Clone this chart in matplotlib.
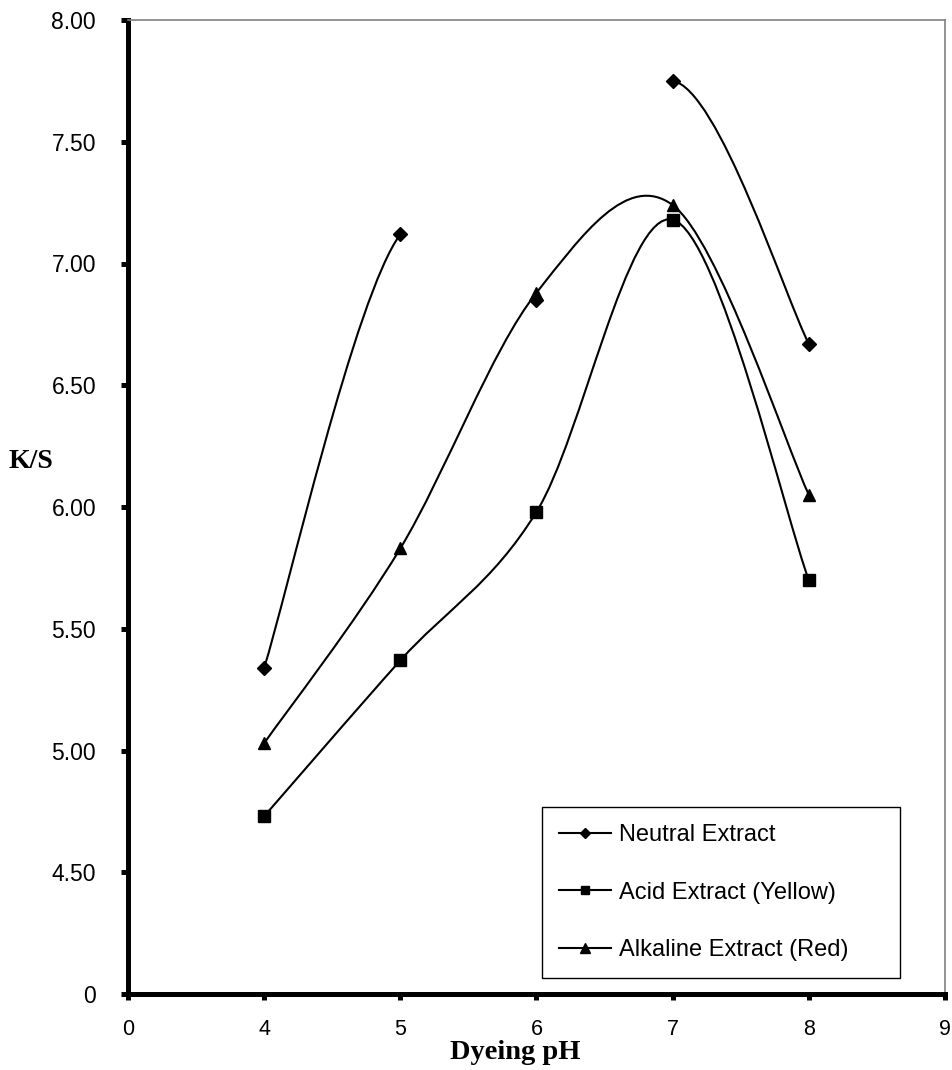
import numpy as np
import matplotlib
matplotlib.use("Agg")
import matplotlib.pyplot as plt
from matplotlib.path import Path
from matplotlib.patches import PathPatch
from matplotlib.lines import Line2D

# data
ph = [4, 5, 6, 7, 8]
neutral = [5.34, 7.12, 6.85, 7.75, 6.67]
acid = [4.73, 5.37, 5.98, 7.18, 5.70]
alkaline = [5.03, 5.83, 6.88, 7.24, 6.05]
neutral_segments = [0, 3]  # only these segments of the neutral line are drawn

x_ticks = [3, 4, 5, 6, 7, 8, 9]
x_labels = ["0", "4", "5", "6", "7", "8", "9"]
y_ticks = [4.0, 4.5, 5.0, 5.5, 6.0, 6.5, 7.0, 7.5, 8.0]
y_labels = ["0", "4.50", "5.00", "5.50", "6.00", "6.50", "7.00", "7.50", "8.00"]

plt.rcParams['font.family'] = ['Liberation Sans', 'DejaVu Sans']


def smooth_path(xs, ys, segs=None):
    # Excel style smoothed line: cubic bezier through every point
    p = np.column_stack([xs, ys]).astype(float)
    n = len(p)
    verts, codes = [], []
    if segs is None:
        segs = range(n - 1)
    for i in segs:
        p0 = p[max(i - 1, 0)]
        p1 = p[i]
        p2 = p[i + 1]
        p3 = p[min(i + 2, n - 1)]
        c1 = p1 + (p2 - p0) / 6
        c2 = p2 - (p3 - p1) / 6
        verts += [p1, c1, c2, p2]
        codes += [Path.MOVETO, Path.CURVE4, Path.CURVE4, Path.CURVE4]
    return Path(verts, codes)


fig = plt.figure(figsize=(9.52, 10.70), dpi=100)
ax = fig.add_axes([128 / 952, 1 - 994 / 1070, 817 / 952, 974 / 1070])

lw = 1.5
series = [
    (neutral, 'D', 7, "Neutral Extract", neutral_segments),
    (acid, 's', 8, "Acid Extract (Yellow)", None),
    (alkaline, '^', 9, "Alkaline Extract (Red)", None),
]
handles = []
for vals, mk, ms, name, segs in series:
    ax.add_patch(PathPatch(smooth_path(ph, vals, segs), fill=False,
                           edgecolor='black', linewidth=lw, zorder=2))
    ax.plot(ph, vals, linestyle='none', marker=mk, markersize=ms,
            color='black', zorder=3)
    handles.append(Line2D([], [], color='black', linewidth=lw, marker=mk,
                          markersize=ms * 0.8, label=name))

ax.set_xlim(3, 9)
ax.set_ylim(4, 8)
ax.set_xticks(x_ticks)
ax.set_xticklabels(x_labels)
ax.set_yticks(y_ticks)
ax.set_yticklabels(y_labels)

for side in ['left', 'bottom']:
    ax.spines[side].set_linewidth(3.6)
    ax.spines[side].set_color('black')
for side in ['top', 'right']:
    ax.spines[side].set_linewidth(1.2)
    ax.spines[side].set_color('#808080')

ax.tick_params(axis='y', direction='out', length=5, width=3.6, pad=18,
               labelsize=16.5)
ax.tick_params(axis='x', direction='out', length=4, width=3.6, pad=14,
               labelsize=15.5)

fig.text(31 / 952, 1 - 461 / 1070, "K/S", fontsize=20, fontweight='bold',
         family='Liberation Serif', ha='center', va='center')
fig.text(515 / 952, 1 - 1059 / 1070, "Dyeing pH", fontsize=20.5,
         fontweight='bold', family='Liberation Serif', ha='center',
         va='baseline')

leg = ax.legend(handles=handles, loc='lower left',
                bbox_to_anchor=(0.507, 0.0164, 0.438, 0.18), mode='expand',
                fontsize=17, frameon=True, fancybox=False, framealpha=1,
                edgecolor='black', labelspacing=1.5, borderpad=0.72,
                handlelength=2.2, handletextpad=0.35, borderaxespad=0)
leg.get_frame().set_linewidth(1.0)

fig.savefig("out.png", dpi=100)
